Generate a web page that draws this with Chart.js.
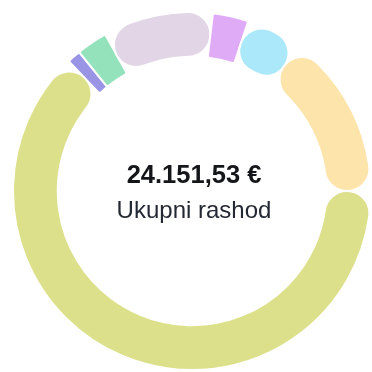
<!DOCTYPE html>
<html>
<head>
<meta charset="utf-8">
<script src="https://cdn.jsdelivr.net/npm/chart.js@4"></script>
<style>
  html, body { margin: 0; padding: 0; background: #ffffff; }
  body { width: 372px; height: 372px; position: relative; overflow: hidden; }
  #wrap { position: absolute; left: 12px; top: 11px; width: 360px; height: 360px; }
</style>
</head>
<body>
<div id="wrap"><canvas id="chart" width="360" height="360"></canvas></div>
<script>
// Expense categories and amounts (EUR)
const categories = ['Stanovanje', 'Pretplate', 'Zdravlje', 'Prijevoz', 'Odjeća', 'Zabava', 'Hrana'];
const amounts = [15195.40, 295.10, 678.20, 2395.60, 778.35, 1214.00, 3594.88];
const centerLabel = 'Ukupni rashod';

const colors = ['#dde08b', '#9a94e4', '#93e2bb', '#e2d5e6', '#e0abf6', '#abe9fa', '#fde4ab'];
const cornerRadius = [30, 2, 2, 30, 2, 30, 30];

const total = amounts.reduce((a, b) => a + b, 0);
function formatEuro(v) {
  const [intPart, dec] = v.toFixed(2).split('.');
  return intPart.replace(/\B(?=(\d{3})+(?!\d))/g, '.') + ',' + dec + ' €';
}

// Total and caption in the middle of the ring
const centerText = {
  id: 'centerText',
  afterDraw(chart) {
    const {ctx} = chart;
    const arc = chart.getDatasetMeta(0).data[0];
    const cx = arc.x, cy = arc.y;
    ctx.save();
    ctx.textAlign = 'center';
    ctx.textBaseline = 'alphabetic';
    ctx.fillStyle = '#15161a';
    ctx.font = 'bold 25.5px "Liberation Sans"';
    ctx.fillText(formatEuro(total), cx + 2, cy - 8);
    ctx.fillStyle = '#232833';
    ctx.font = '24px "Liberation Sans"';
    ctx.fillText(centerLabel, cx + 2, cy + 27);
    ctx.restore();
  }
};

new Chart(document.getElementById('chart'), {
  type: 'doughnut',
  data: {
    labels: categories,
    datasets: [{
      data: amounts,
      backgroundColor: colors,
      borderColor: '#ffffff',
      borderWidth: 2,
      borderRadius: cornerRadius,
      hoverOffset: 0
    }]
  },
  options: {
    responsive: false,
    animation: false,
    rotation: 90,
    cutout: '75%',
    layout: { padding: 0 },
    plugins: {
      legend: { display: false },
      tooltip: { enabled: false }
    }
  },
  plugins: [centerText]
});
</script>
</body>
</html>
